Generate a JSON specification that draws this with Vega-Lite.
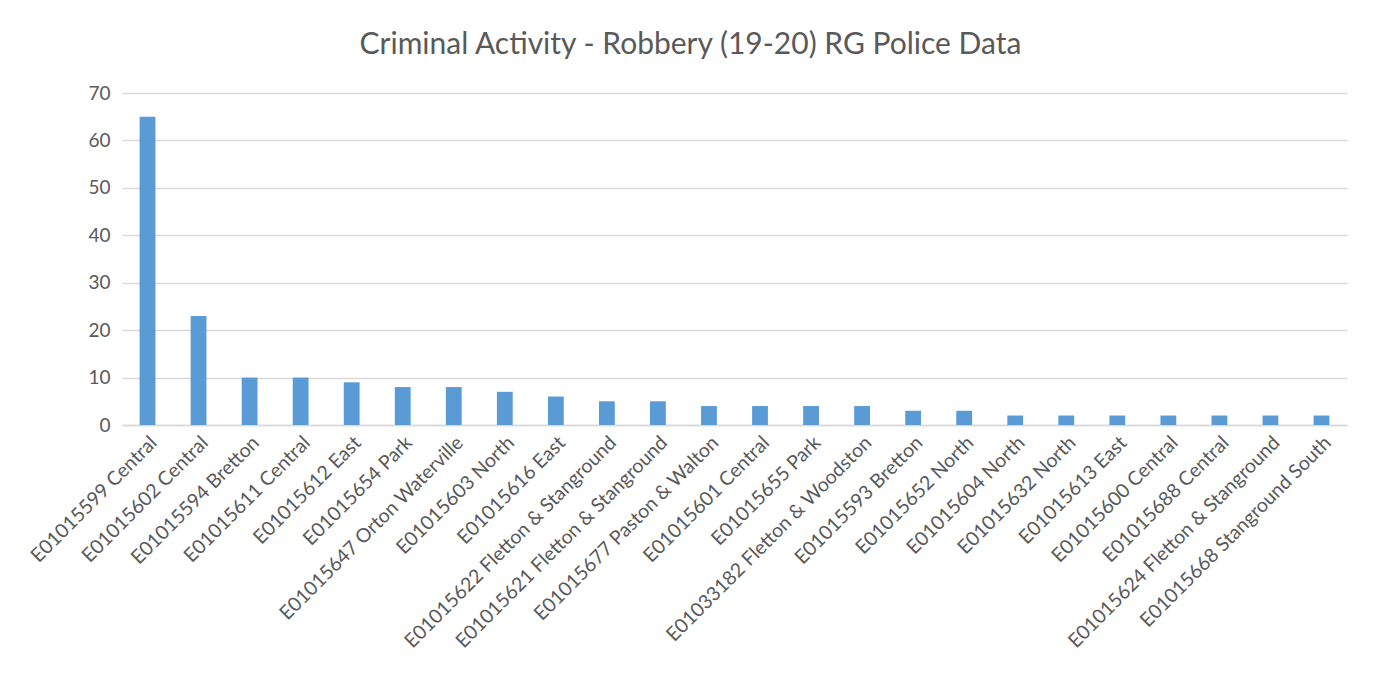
{
  "$schema": "https://vega.github.io/schema/vega-lite/v6.json",
  "autosize": "none",
  "width": 1225,
  "height": 332,
  "padding": {"left": 122, "top": 93, "right": 26, "bottom": 252},
  "background": "#ffffff",
  "title": {
    "text": "Criminal Activity - Robbery (19-20) RG Police Data",
    "anchor": "middle",
    "dx": -44,
    "offset": 24,
    "fontSize": 30,
    "font": "Lato",
    "fontWeight": "normal",
    "color": "#595959"
  },
  "data": {
    "values": [
      {"area": "E01015599 Central", "count": 65},
      {"area": "E01015602 Central", "count": 23},
      {"area": "E01015594 Bretton", "count": 10},
      {"area": "E01015611 Central", "count": 10},
      {"area": "E01015612 East", "count": 9},
      {"area": "E01015654 Park", "count": 8},
      {"area": "E01015647 Orton Waterville", "count": 8},
      {"area": "E01015603 North", "count": 7},
      {"area": "E01015616 East", "count": 6},
      {"area": "E01015622 Fletton & Stanground", "count": 5},
      {"area": "E01015621 Fletton & Stanground", "count": 5},
      {"area": "E01015677 Paston & Walton", "count": 4},
      {"area": "E01015601 Central", "count": 4},
      {"area": "E01015655 Park", "count": 4},
      {"area": "E01033182 Fletton & Woodston", "count": 4},
      {"area": "E01015593 Bretton", "count": 3},
      {"area": "E01015652 North", "count": 3},
      {"area": "E01015604 North", "count": 2},
      {"area": "E01015632 North", "count": 2},
      {"area": "E01015613 East", "count": 2},
      {"area": "E01015600 Central", "count": 2},
      {"area": "E01015688 Central", "count": 2},
      {"area": "E01015624 Fletton & Stanground", "count": 2},
      {"area": "E01015668 Stanground South", "count": 2}
    ]
  },
  "mark": {"type": "bar", "color": "#5b9bd5"},
  "encoding": {
    "x": {
      "field": "area",
      "type": "nominal",
      "sort": null,
      "title": null,
      "scale": {"paddingInner": 0.69, "paddingOuter": 0.345},
      "axis": {
        "labelAngle": -45,
        "labelFont": "Lato",
        "labelFontSize": 19.5,
        "labelColor": "#595959",
        "labelPadding": 8,
        "ticks": false,
        "domainColor": "#d9d9d9",
        "domainWidth": 1.5,
        "labelLimit": 400
      }
    },
    "y": {
      "field": "count",
      "type": "quantitative",
      "title": null,
      "scale": {"domain": [0, 70]},
      "axis": {
        "values": [0, 10, 20, 30, 40, 50, 60, 70],
        "labelFont": "Lato",
        "labelFontSize": 19,
        "labelColor": "#595959",
        "labelPadding": 12,
        "ticks": false,
        "domain": false,
        "gridColor": "#d9d9d9",
        "gridWidth": 1.5
      }
    }
  },
  "config": {"view": {"stroke": null}}
}
